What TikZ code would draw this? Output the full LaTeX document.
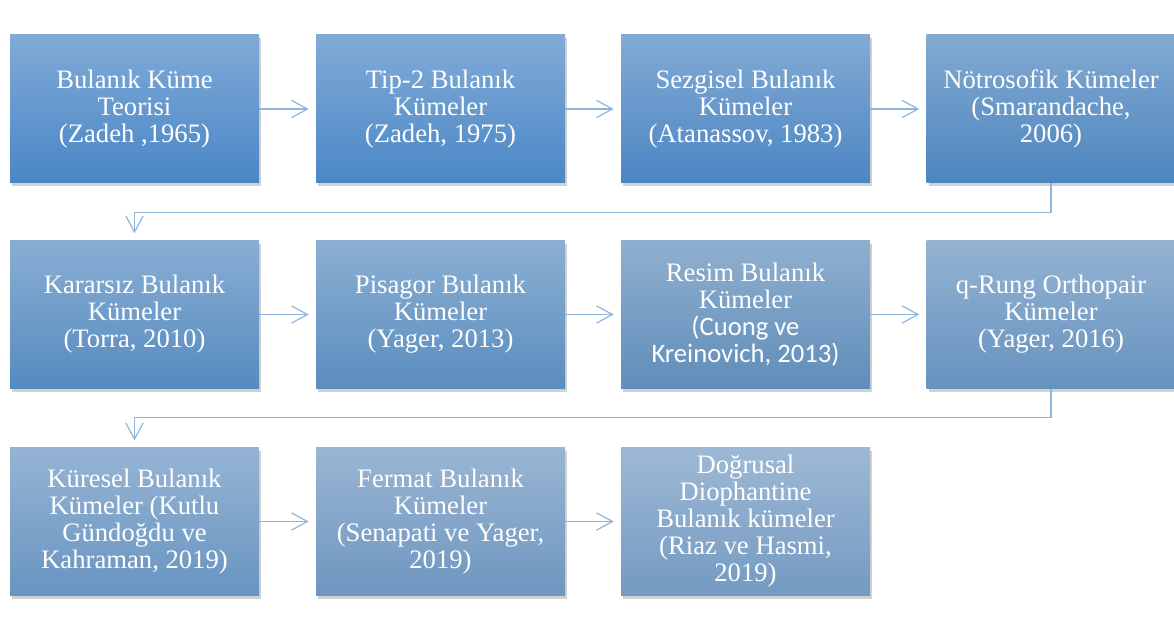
\documentclass[tikz,border=0pt]{standalone}
\usepackage{fontspec}
\setmainfont{Liberation Serif}
\newfontfamily\calibrifont{Carlito}
\usetikzlibrary{arrows.meta,shadows}

\definecolor{linkblue}{RGB}{143,180,222}
\definecolor{kA}{RGB}{74,134,198}
\definecolor{kB}{RGB}{75,135,198}
\definecolor{kC}{RGB}{76,134,195}
\definecolor{kD}{RGB}{77,133,190}
\definecolor{kE}{RGB}{86,139,192}
\definecolor{kF}{RGB}{90,141,191}
\definecolor{kG}{RGB}{96,141,186}
\definecolor{kH}{RGB}{102,146,191}
\definecolor{kI}{RGB}{104,148,193}
\definecolor{kJ}{RGB}{110,150,192}
\definecolor{kK}{RGB}{116,154,194}

\tikzset{
  stage/.style={minimum width=186.75pt, minimum height=111pt, inner sep=0pt,
    align=center, text=white, font=\fontsize{20}{20.25}\selectfont,
    top color=#1!70!white, bottom color=#1,
    drop shadow={shadow xshift=1.5pt, shadow yshift=-2.5pt, opacity=0.3, fill=black!60}},
  link/.style={draw=linkblue, line width=0.9pt, -{Straight Barb[length=12pt, width=13pt]}, shorten >=5.25pt}
}

\begin{document}
\begin{tikzpicture}[x=0.75pt, y=-0.75pt]
\useasboundingbox (0,0) rectangle (1174,623);
% first row
\node[stage=kA] (b1) at (134.5,109) {Bulanık Küme\\Teorisi\\(Zadeh ,1965)};
\node[stage=kB] (b2) at (440.5,109) {Tip-2 Bulanık\\Kümeler\\(Zadeh, 1975)};
\node[stage=kC] (b3) at (745.5,109) {Sezgisel Bulanık\\Kümeler\\(Atanassov, 1983)};
\node[stage=kD] (b4) at (1051,109) {Nötrosofik Kümeler\\(Smarandache,\\2006)};
% second row
\node[stage=kE] (b5) at (134.5,314.5) {Kararsız Bulanık\\Kümeler\\(Torra, 2010)};
\node[stage=kF] (b6) at (440.5,314.5) {Pisagor Bulanık\\Kümeler\\(Yager, 2013)};
\node[stage=kG] (b7) at (745.5,314.5) {Resim Bulanık\\Kümeler\\{\calibrifont(Cuong ve}\\{\calibrifont Kreinovich, 2013)}};
\node[stage=kH] (b8) at (1051,314.5) {q-Rung Orthopair\\Kümeler\\(Yager, 2016)};
% third row
\node[stage=kI] (b9) at (134.5,521.5) {Küresel Bulanık\\Kümeler (Kutlu\\Gündoğdu ve\\Kahraman, 2019)};
\node[stage=kJ] (b10) at (440.5,521.5) {Fermat Bulanık\\Kümeler\\(Senapati ve Yager,\\2019)};
\node[stage=kK] (b11) at (745.5,521.5) {Doğrusal\\Diophantine\\Bulanık kümeler\\(Riaz ve Hasmi,\\2019)};

\draw[link] (b1) -- (b2);
\draw[link] (b2) -- (b3);
\draw[link] (b3) -- (b4);
\draw[link] (b4.south) -- ++(0,29) -| (b5.north);
\draw[link] (b5) -- (b6);
\draw[link] (b6) -- (b7);
\draw[link] (b7) -- (b8);
\draw[link] (b8.south) -- ++(0,29) -| (b9.north);
\draw[link] (b9) -- (b10);
\draw[link] (b10) -- (b11);
\end{tikzpicture}
\end{document}
